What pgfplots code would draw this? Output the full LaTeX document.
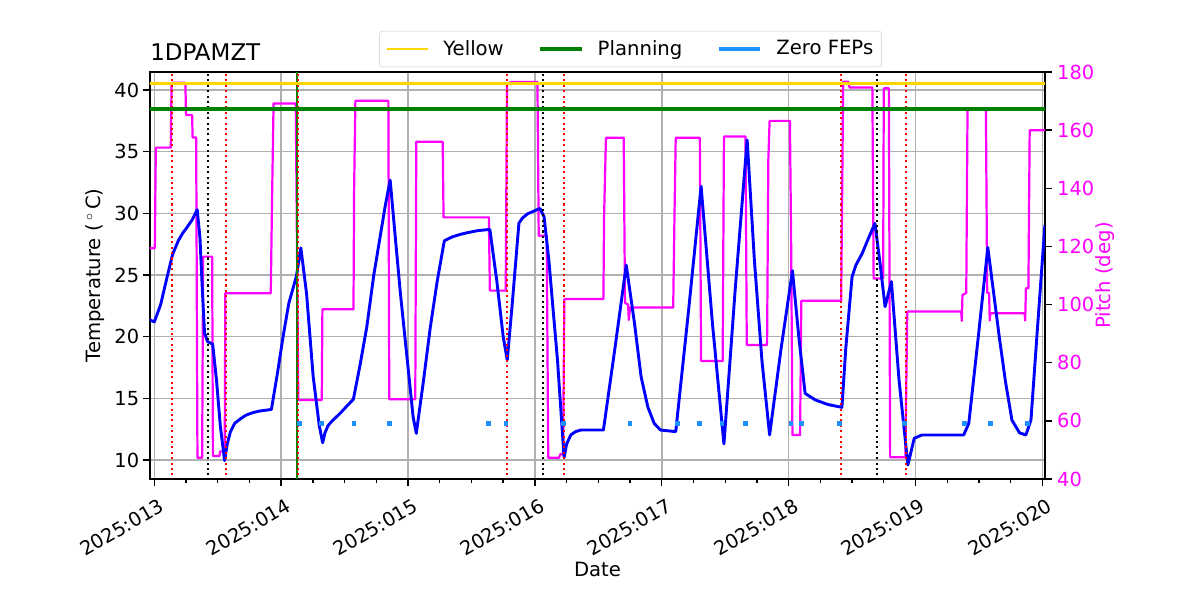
\documentclass[border=0pt]{standalone}
\usepackage{fontspec}
\setmainfont{DejaVu Sans}
\usepackage{pgfplots}
\usepackage{pgfplotstable}
\pgfplotsset{compat=1.18}
\definecolor{gold}{HTML}{FFD700}
\definecolor{mplgreen}{HTML}{008000}
\definecolor{dodger}{HTML}{1E90FF}
\definecolor{gridgray}{HTML}{B0B0B0}
\definecolor{mplmagenta}{rgb}{1,0,1}
\definecolor{mplblue}{rgb}{0,0,1}
\definecolor{mplred}{rgb}{1,0,0}

\pgfplotstableread{
x y
12.966 21.35
13.0 21.2
13.05 22.6
13.10 24.8
13.145 26.7
13.19 27.8
13.224 28.4
13.26 28.9
13.30 29.5
13.338 30.3
13.36 28.0
13.38 23.5
13.396 20.3
13.42 19.6
13.46 19.4
13.49 16.5
13.52 12.8
13.554 9.95
13.575 11.3
13.60 12.3
13.633 12.97
13.68 13.35
13.725 13.65
13.78 13.85
13.83 13.97
13.923 14.1
13.97 17.0
14.015 20.0
14.06 22.7
14.12 24.9
14.155 27.2
14.2 23.5
14.252 16.8
14.30 12.8
14.327 11.4
14.345 12.2
14.37 12.8
14.40 13.15
14.464 13.78
14.52 14.4
14.569 14.92
14.62 17.6
14.675 20.8
14.73 25.0
14.78 28.1
14.82 30.6
14.859 32.7
14.90 28.0
14.94 23.5
15.0 17.5
15.04 13.5
15.065 12.16
15.12 16.3
15.176 20.8
15.23 24.5
15.286 27.78
15.35 28.1
15.413 28.3
15.466 28.43
15.55 28.6
15.645 28.7
15.70 24.5
15.75 20.0
15.782 18.1
15.82 22.5
15.874 29.2
15.90 29.6
15.94 29.95
16.04 30.4
16.072 29.73
16.11 26.2
16.145 22.0
16.178 18.1
16.23 10.19
16.25 11.3
16.283 12.03
16.32 12.3
16.362 12.43
16.54 12.43
16.63 19.0
16.72 25.8
16.785 21.08
16.837 16.76
16.89 14.3
16.94 12.97
16.99 12.43
17.11 12.3
17.21 22.0
17.31 32.2
17.40 21.0
17.49 11.3
17.58 24.0
17.673 35.95
17.73 26.2
17.79 18.0
17.85 12.03
17.94 19.0
18.03 25.35
18.08 20.0
18.13 15.4
18.21 14.87
18.31 14.5
18.42 14.27
18.45 19.0
18.50 24.86
18.53 25.8
18.58 26.76
18.63 28.0
18.68 29.19
18.72 26.0
18.76 22.43
18.81 24.46
18.87 16.5
18.94 9.6
18.99 11.76
19.05 12.03
19.38 12.03
19.42 12.97
19.495 20.0
19.57 27.24
19.66 20.0
19.71 16.3
19.76 13.24
19.82 12.2
19.87 12.03
19.91 13.24
19.96 20.5
20.02 29.05
}\tempdata

\pgfplotstableread{
x y
12.966 119.4
13.004 119.4
13.012 154
13.13 154
13.136 176.3
13.245 176.3
13.25 165.2
13.298 165.2
13.302 157.5
13.33 157.5
13.34 47.3
13.377 47.3
13.385 116.5
13.456 116.5
13.462 47.9
13.514 47.9
13.518 49.5
13.555 49.5
13.56 103.9
13.918 103.9
13.928 136
13.94 169.2
14.115 169.2
14.135 67.2
14.32 67.2
14.325 98.4
14.57 98.4
14.575 140
14.585 170.1
14.845 170.1
14.852 67.4
15.057 67.4
15.065 156
15.273 156
15.28 130
15.637 130
15.645 104.8
15.77 104.8
15.78 176.1
15.82 176.6
16.02 176.6
16.03 123.7
16.093 123.7
16.105 47.3
16.19 47.3
16.2 48.5
16.222 48.5
16.232 101.9
16.54 101.9
16.545 130
16.56 157.4
16.70 157.4
16.71 100.6
16.735 100
16.74 94.7
16.75 99.0
17.09 99.0
17.1 130
17.11 157.4
17.30 157.4
17.31 80.6
17.48 80.6
17.49 157.8
17.66 157.8
17.67 86.1
17.83 86.1
17.84 150
17.85 163.2
18.01 163.2
18.02 120
18.03 55.1
18.09 55.1
18.10 101.3
18.414 101.3
18.43 176.7
18.47 176.7
18.48 174.7
18.66 174.7
18.67 109
18.745 109
18.75 174.4
18.79 174.4
18.80 47.5
18.92 47.5
18.935 97.6
19.36 97.6
19.365 94.4
19.37 103.3
19.40 104
19.41 167
19.555 167
19.565 104
19.58 104
19.585 94.5
19.59 97.0
19.86 97.0
19.865 94.5
19.87 105.6
19.89 105.6
19.90 160
20.02 160
}\pitchdata

\pgfplotstableread{
x y
14.144 13
14.316 13
14.571 13
14.850 13
15.631 13
15.771 13
16.223 13
16.749 13
17.123 13
17.296 13
17.473 13
17.657 13
18.017 13
18.098 13
18.400 13
18.913 13
19.384 13
19.589 13
19.879 13
}\fepdata

\begin{document}
\fontsize{14}{16.5}\selectfont
\begin{tikzpicture}
\path[use as bounding box] (0,0) rectangle (867.24pt,433.62pt);
\pgfplotsset{
  myax/.style={at={(108.4pt,87.45pt)}, anchor=south west, scale only axis,
    width=646.8pt, height=294.1pt, xmin=12.966, xmax=20.0205,
    tick align=outside, major tick length=5pt, minor tick length=3pt,
    tick style={black, line width=1pt},
    axis line style={line width=1.1pt},
    ticklabel style={font=\fontsize{14}{16.5}\selectfont},
    label style={font=\fontsize{14.2}{16.5}\selectfont},
    /pgf/number format/assume math mode=true},
  vdot/.style={line width=1.5pt, dash pattern=on 1.5pt off 2.4pt},
}
% axis 1: temperature frame and grid
\begin{axis}[myax,
  ymin=8.46, ymax=41.46,
  grid=major, grid style={gridgray, line width=1.1pt},
  xtick={13,14,15,16,17,18,19,20},
  xticklabels={2025:013,2025:014,2025:015,2025:016,2025:017,2025:018,2025:019,2025:020},
  minor x tick num=3,
  ytick={10,15,20,25,30,35,40},
  xtick pos=left, ytick pos=left,
  xticklabel style={rotate=30, anchor=north east, xshift=3pt, yshift=-4pt},
  yticklabel style={xshift=2pt},
  xlabel={Date},
  xlabel style={at={(axis description cs:0.5,-0.2408)}, anchor=base},
  ylabel={Temperature (\,$^{\circ}$\,C)},
  ylabel style={at={(axis description cs:-0.0615,0.5)}, anchor=center},
  title={1DPAMZT},
  title style={at={(axis description cs:0,1)}, anchor=base west, yshift=2.5pt, inner sep=0pt, font=\fontsize{16.6}{19}\selectfont},
]
\addplot[draw=none, forget plot] coordinates {(13,20)};
\end{axis}
% axis 2: pitch
\begin{axis}[myax,
  ymin=40, ymax=180,
  axis y line*=right, axis x line=none,
  ytick={40,60,80,100,120,140,160,180},
  yticklabel style={mplmagenta, xshift=-1pt},
  ylabel={Pitch (deg)},
  ylabel style={at={(axis description cs:1.067,0.5)}, anchor=center, mplmagenta},
]
\addplot[mplmagenta, line width=1.6pt, line join=round] table[x=x,y=y] {\pitchdata};
\end{axis}
% axis 3: temperature curves and markers
\begin{axis}[myax,
  ymin=8.46, ymax=41.46, hide axis,
  legend columns=3,
  legend style={at={(axis description cs:0.537,1.0565)}, anchor=center,
    draw=black!20, rounded corners=2pt, fill=white,
    font=\fontsize{14.2}{16.5}\selectfont,
    /tikz/every odd column/.append style={column sep=8pt},
    /tikz/every even column/.append style={column sep=23pt},
    inner xsep=4pt, inner ysep=4.5pt},
  legend image code/.code={\draw[#1] (0pt,0pt) -- (30pt,0pt);},
]
\addlegendimage{gold, line width=2pt}
\addlegendentry{Yellow}
\addlegendimage{mplgreen, line width=2.9pt}
\addlegendentry{Planning}
\addlegendimage{dodger, line width=2.9pt}
\addlegendentry{Zero FEPs}
\addplot[mplblue, line width=2.1pt, line join=round, forget plot] table[x=x,y=y] {\tempdata};
\addplot[mplgreen, line width=1.5pt, forget plot] coordinates {(14.128,0) (14.128,50)};
\addplot[mplred, vdot, forget plot] coordinates {(13.142,0) (13.142,50)};
\addplot[mplred, vdot, forget plot] coordinates {(13.563,0) (13.563,50)};
\addplot[mplred, vdot, forget plot] coordinates {(14.13,0) (14.13,50)};
\addplot[mplred, vdot, forget plot] coordinates {(15.78,0) (15.78,50)};
\addplot[mplred, vdot, forget plot] coordinates {(16.226,0) (16.226,50)};
\addplot[mplred, vdot, forget plot] coordinates {(18.415,0) (18.415,50)};
\addplot[mplred, vdot, forget plot] coordinates {(18.927,0) (18.927,50)};
\addplot[black, vdot, forget plot] coordinates {(13.426,0) (13.426,50)};
\addplot[black, vdot, forget plot] coordinates {(16.061,0) (16.061,50)};
\addplot[black, vdot, forget plot] coordinates {(18.699,0) (18.699,50)};
\addplot[gold, line width=2pt, forget plot] coordinates {(12,40.5) (21,40.5)};
\addplot[mplgreen, line width=2.9pt, forget plot] coordinates {(12,38.5) (21,38.5)};
\addplot[dodger, only marks, mark=square*, mark size=1.3pt, forget plot] table[x=x,y=y] {\fepdata};
\end{axis}
\end{tikzpicture}
\end{document}
